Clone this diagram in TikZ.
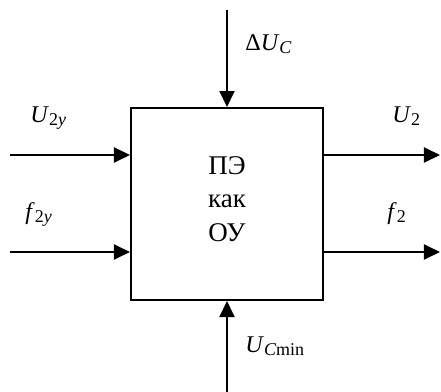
\documentclass[tikz,border=0pt]{standalone}
\usepackage{fontspec}
\setmainfont{Liberation Serif}
\usetikzlibrary{arrows.meta}

% subscript of a label
\newcommand{\sbs}[1]{\raisebox{-0.35ex}{\fontsize{9}{10}\selectfont #1}}

\begin{document}
\begin{tikzpicture}[x=0.5pt, y=-0.5pt,
    sig/.style={-{Triangle[length=8pt, width=7.5pt]}, line width=1pt},
    lbl/.style={anchor=base west, inner sep=0pt, font=\fontsize{12}{14}\selectfont}]
    \useasboundingbox (0,0) rectangle (441,392);

    % Block
    \node[draw, line width=1pt, minimum width=96pt, minimum height=96pt, inner sep=0pt] (pe) at (227,204) {};
    \node[align=center, inner sep=0pt, font=\fontsize{13.5}{16.75}\selectfont] (petext) at (227,199) {ПЭ\\как\\ОУ};

    % Free ends of the signals
    \coordinate (in1) at (10,155);
    \coordinate (in2) at (10,252);
    \coordinate (out1) at (440,155);
    \coordinate (out2) at (440,252);
    \coordinate (top) at (227,10);
    \coordinate (bot) at (227,392);

    % Inputs
    \draw[sig] (in1) -- (in1 -| pe.west);
    \draw[sig] (in2) -- (in2 -| pe.west);
    \draw[sig] (top) -- (pe.north);
    \draw[sig] (bot) -- (pe.south);

    % Outputs
    \draw[sig] (out1 -| pe.east) -- (out1);
    \draw[sig] (out2 -| pe.east) -- (out2);

    % Labels
    \node[lbl] (lu2y) at (30,122) {\textit{U}\sbs{2\textit{y}}};
    \node[lbl] (lf2y) at (25,219) {\textit{f}\sbs{2\textit{y}}};
    \node[lbl] (lu2) at (392,122) {\textit{U}\sbs{2}};
    \node[lbl] (lf2) at (387,219) {\textit{f}\sbs{2}};
    \node[lbl] (ldu) at (245,50) {Δ\textit{U}\sbs{\textit{C}}};
    \node[lbl] (lumin) at (245,352) {\textit{U}\sbs{\textit{C}min}};
\end{tikzpicture}
\end{document}
